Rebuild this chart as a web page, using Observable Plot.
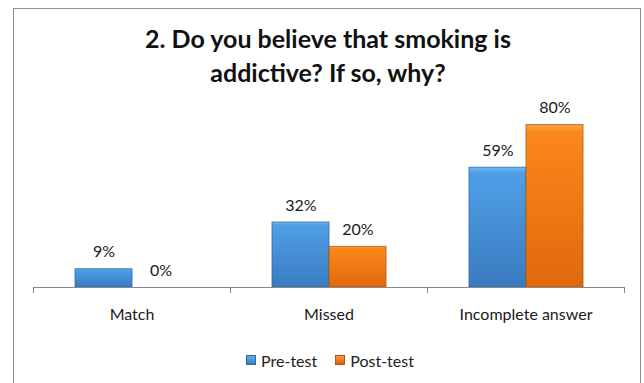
<!DOCTYPE html>
<html>
<head>
<meta charset="utf-8">
<script src="https://cdn.jsdelivr.net/npm/d3@7"></script>
<script src="https://cdn.jsdelivr.net/npm/@observablehq/plot@0.6"></script>
<style>
  html, body { margin: 0; padding: 0; background: #fff; }
  body { width: 644px; height: 383px; position: relative; overflow: hidden; font-family: Lato, "Open Sans", sans-serif; }
  #frame { position: absolute; left: 13px; top: 8px; width: 626px; height: 400px; border: 1px solid #8c8c8c; border-bottom: none; }
  #title { position: absolute; left: 13px; width: 630px; top: 21px; text-align: center; font-weight: bold; font-size: 25px; line-height: 34px; color: #111; }
  #chart { position: absolute; left: 0; top: 0; }
  #legend { position: absolute; left: 0; width: 660px; top: 349px; text-align: center; font-size: 16px; color: #222; }
  #legend span.item { display: inline-flex; align-items: center; margin: 0 9px; }
  #legend span.sw { display: inline-block; width: 10px; height: 10px; margin-right: 5px; }
</style>
</head>
<body>
<svg width="0" height="0" style="position:absolute">
  <defs>
    <linearGradient id="gPre" x1="0" y1="0" x2="0" y2="1">
      <stop offset="0" stop-color="#6cb8f4"/>
      <stop offset="0.05" stop-color="#4f9fe6"/>
      <stop offset="1" stop-color="#3a7bc0"/>
    </linearGradient>
    <linearGradient id="gPost" x1="0" y1="0" x2="0" y2="1">
      <stop offset="0" stop-color="#ffa247"/>
      <stop offset="0.05" stop-color="#fb871c"/>
      <stop offset="1" stop-color="#e0690c"/>
    </linearGradient>
  </defs>
</svg>
<div id="frame"></div>
<div id="title">2. Do you believe that smoking is<br>addictive? If so, why?</div>
<div id="chart"></div>
<div id="legend"></div>
<script>
// Answer categories and the share of responses (%) before and after the session
const categories = ["Match", "Missed", "Incomplete answer"];
const series = ["Pre-test", "Post-test"];
const preTest = [9, 32, 59];
const postTest = [0, 20, 80];

const fills = {"Pre-test": "url(#gPre)", "Post-test": "url(#gPost)"};
const strokes = {"Pre-test": "#2f6aa6", "Post-test": "#b0560c"};
const swatches = {"Pre-test": "linear-gradient(#5fb0f0, #3a7bc0)", "Post-test": "linear-gradient(#ff9a3a, #d8620a)"};

const rows = categories.flatMap((c, i) => [
  {category: c, series: "Pre-test", value: preTest[i]},
  {category: c, series: "Post-test", value: postTest[i]}
]);

const bars = series.map(s => Plot.barY(rows, {
  filter: d => d.series === s,
  fx: "category", x: "series", y: "value",
  fill: fills[s], stroke: strokes[s], strokeWidth: 1, strokeOpacity: 0.8
}));

const plot = Plot.plot({
  width: 644,
  height: 383,
  marginLeft: 32,
  marginRight: 20,
  marginTop: 84,
  marginBottom: 96,
  style: {fontFamily: "Lato, 'Open Sans', sans-serif", fontSize: "16px", color: "#222", background: "transparent"},
  fx: {domain: categories, padding: 0, label: null},
  x: {domain: series, paddingInner: 0, paddingOuter: 0.707, axis: null},
  y: {domain: [0, 100], axis: null},
  marks: [
    ...bars,
    Plot.ruleY([0], {stroke: "#8a8a8a", strokeWidth: 1}),
    Plot.text(rows, {fx: "category", x: "series", y: "value", text: d => d.value + "%", dy: -17, fontSize: 16, fill: "#1a1a1a"}),
    Plot.axisFx({anchor: "bottom", tickSize: 0, tickPadding: 21, fontSize: 16, label: null, fill: "#1a1a1a"})
  ]
});
document.getElementById("chart").appendChild(plot);

// category boundary ticks below the baseline, placed from the fx band scale
const fx = plot.scale("fx");
const y0 = plot.scale("y").apply(0);
const bounds = categories.map(c => fx.apply(c)).concat([fx.apply(categories[categories.length - 1]) + fx.bandwidth]);
d3.select(plot).append("g")
  .selectAll("line").data(bounds).join("line")
  .attr("x1", d => Math.round(d) + 0.5).attr("x2", d => Math.round(d) + 0.5)
  .attr("y1", y0).attr("y2", y0 + 6)
  .attr("stroke", "#8a8a8a");

// legend
const legend = d3.select("#legend");
series.forEach(s => {
  const item = legend.append("span").attr("class", "item");
  item.append("span").attr("class", "sw")
    .style("background", swatches[s])
    .style("border", "1px solid " + strokes[s])
    .style("box-sizing", "border-box");
  item.append("span").text(s);
});
</script>
</body>
</html>
